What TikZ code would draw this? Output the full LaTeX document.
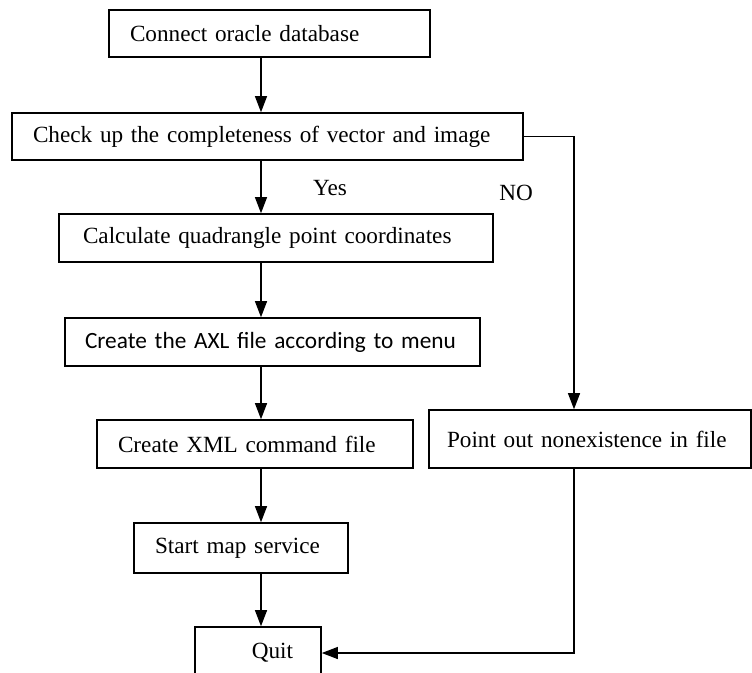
\documentclass[tikz,border=0pt]{standalone}
\usepackage{fontspec}
\setmainfont{Liberation Serif}
\newfontfamily\calibri{Carlito}
\usetikzlibrary{arrows.meta}
\tikzset{
every picture/.style={
line width=1.1pt
}}

\begin{document}
\begin{tikzpicture}[x=1pt, y=-1pt, auto, font=\fontsize{23.2}{28}\selectfont,
block/.style = {rectangle, draw=black, line width=1.6pt, align=left, inner xsep=21pt, inner ysep=0pt},
line/.style = {-{Triangle[length=16pt, width=12pt]}}]
\useasboundingbox (0,0) rectangle (752,672);

\coordinate (spine) at (261,0);
\coordinate (nobranch) at (574,0);

\node [block, text width=279pt, minimum height=47pt] (connect) at (269.5,33.5) {Connect oracle database};
\node [block, text width=469pt, minimum height=47pt] (check) at (267.5,136.5) {Check up the completeness of vector and image};
\node [block, text width=386pt, minimum height=48pt, inner xsep=24pt] (calc) at (276,238) {Calculate quadrangle point coordinates};
\node [block, text width=375pt, minimum height=48pt, inner xsep=20pt, font=\calibri\fontsize{23.3}{28}\selectfont] (axl) at (272.5,342) {Create the AXL file according to menu};
\node [block, text width=274pt, minimum height=48pt] (xml) at (255,444) {Create XML command file};
\node [block, text width=172pt, minimum height=50pt] (start) at (241,548) {Start map service};
\node [block, text width=70pt, minimum height=52pt, inner xsep=28pt, align=right] (quit) at (258,653) {Quit};
\node [block, text width=286pt, minimum height=58pt, inner xsep=18pt] (pointout) at (590,439) {Point out nonexistence in file};

\node (yes) at (330,188) {Yes};
\node (no) at (516,193) {NO};

% main column
\draw [line] (connect.south -| spine) -- (check.north -| spine);
\draw [line] (check.south -| spine) -- (calc.north -| spine);
\draw [line] (calc.south -| spine) -- (axl.north -| spine);
\draw [line] (axl.south -| spine) -- (xml.north -| spine);
\draw [line] (xml.south -| spine) -- (start.north -| spine);
\draw [line] (start.south -| spine) -- (quit.north -| spine);
% NO branch
\draw [line] (check.east) -| (pointout.north -| nobranch);
\draw [line] (pointout.south -| nobranch) |- (quit.east);
\end{tikzpicture}
\end{document}
